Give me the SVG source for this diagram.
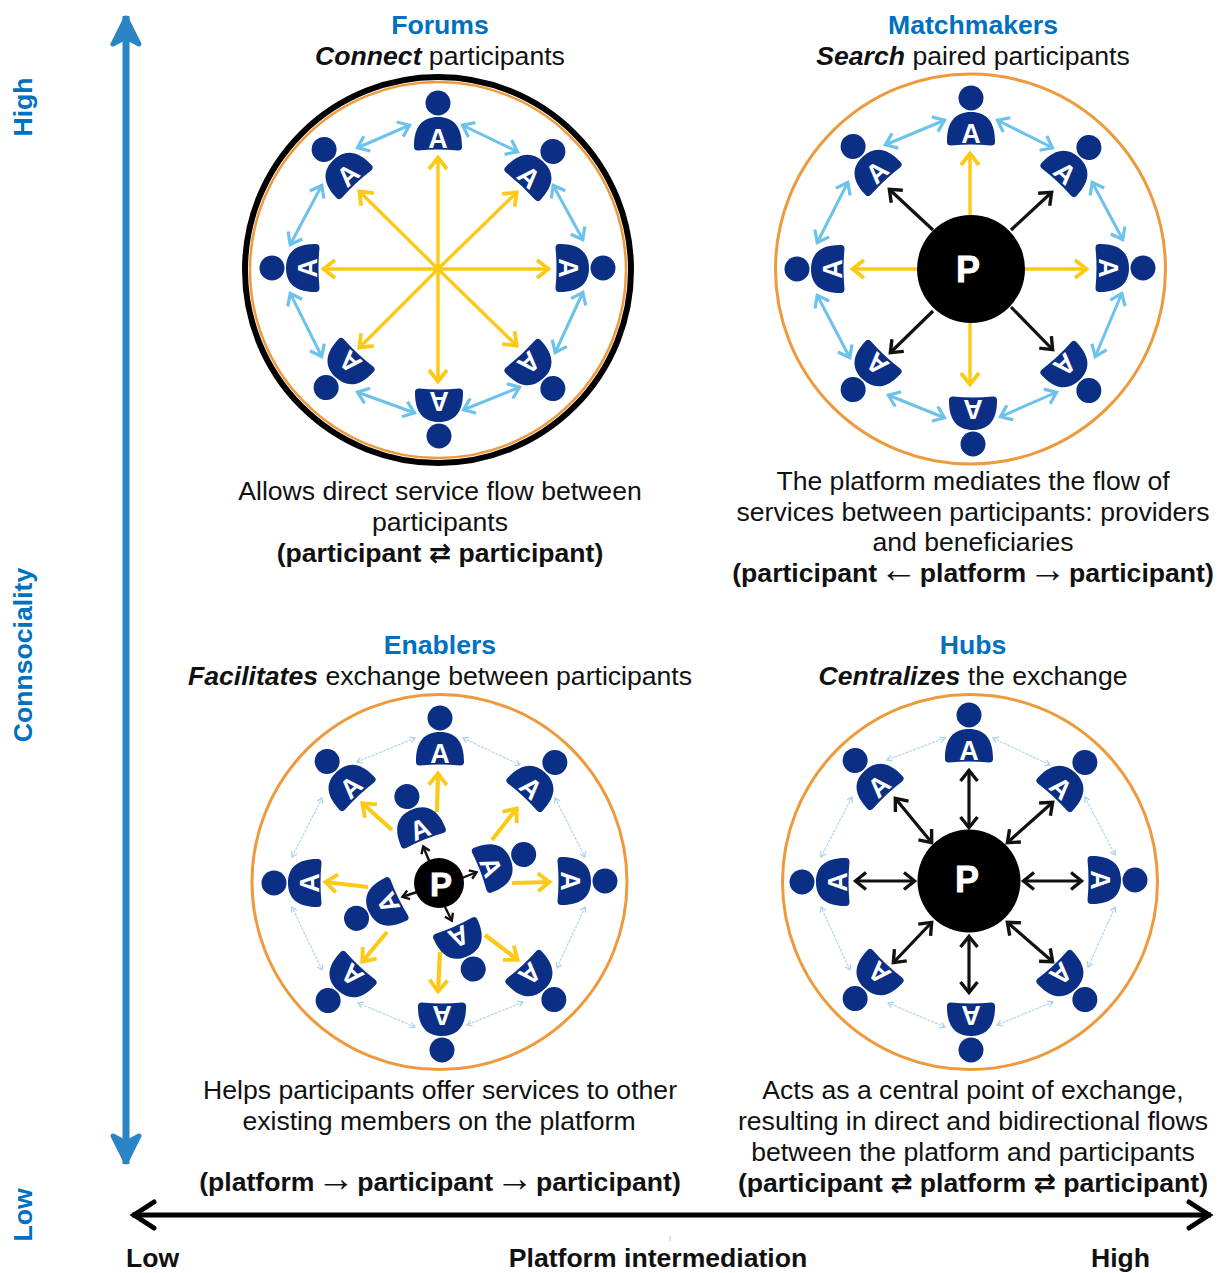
<svg xmlns="http://www.w3.org/2000/svg" width="1220" height="1273" viewBox="0 0 1220 1273">
<style>
text{font-family:"Liberation Sans","DejaVu Sans",sans-serif;font-size:26.6px;fill:#111;text-anchor:middle}
.b{font-weight:700}
.t{font-weight:700;fill:#0070c0}
.i{font-weight:700;font-style:italic}
.s{text-anchor:start}
.ar{font-size:38px;font-weight:400}
.a{font-weight:700;font-size:27px;fill:#fff}
.P{font-weight:700;fill:#fff;stroke:#fff;stroke-width:.8}
.ring{fill:#fff;stroke:#ee9a3c;stroke-width:3}
.hub{fill:#000}
.body{fill:#0b2f85}
line{fill:none}
.y1{stroke:#fcc916;stroke-width:3.4;marker-end:url(#my)}
.y2{stroke:#fcc916;stroke-width:4.2;marker-end:url(#my)}
.l{stroke:#6cc2ea;stroke-width:3;marker-start:url(#ml);marker-end:url(#ml)}
.f{stroke:#b4d6ea;stroke-width:1.2;stroke-dasharray:3 1;marker-start:url(#mf);marker-end:url(#mf)}
.k{stroke:#111;stroke-width:3.2;marker-end:url(#mk)}
.kk{stroke:#111;stroke-width:3.2;marker-start:url(#mk);marker-end:url(#mk)}
.k1{stroke:#111;stroke-width:2.4;marker-end:url(#ms)}
</style>
<defs>
<g id="person"><circle cx="0" cy="-35" r="12.5" class="body"/><path class="body" d="M-20,12.5 Q0,10.5 20,12.5 Q24.5,12.5 24,8 C24,-12 15,-21 0,-21 C-15,-21 -24,-12 -24,8 Q-24.5,12.5 -20,12.5Z"/></g>
<marker id="my" markerUnits="userSpaceOnUse" markerWidth="28" markerHeight="28" refX="17" refY="14" orient="auto-start-reverse"><path d="M5,5 L16.5,14 L5,23" fill="none" stroke="#fcc916" stroke-width="3.8"/></marker>
<marker id="ml" markerUnits="userSpaceOnUse" markerWidth="28" markerHeight="28" refX="17" refY="14" orient="auto-start-reverse"><path d="M6,6 L16.5,14 L6,22" fill="none" stroke="#6cc2ea" stroke-width="3.2"/></marker>
<marker id="mf" markerUnits="userSpaceOnUse" markerWidth="12" markerHeight="12" refX="8" refY="6" orient="auto-start-reverse"><path d="M3,3 L8,6 L3,9" fill="none" stroke="#a9cfe6" stroke-width="1.2"/></marker>
<marker id="mk" markerUnits="userSpaceOnUse" markerWidth="28" markerHeight="28" refX="17" refY="14" orient="auto-start-reverse"><path d="M6,5.5 L16.5,14 L6,22.5" fill="none" stroke="#111" stroke-width="3.4"/></marker>
<marker id="ms" markerUnits="userSpaceOnUse" markerWidth="16" markerHeight="16" refX="10" refY="8" orient="auto-start-reverse"><path d="M3,3.5 L9.5,8 L3,12.5" fill="none" stroke="#111" stroke-width="2.4"/></marker>
<marker id="mb" markerUnits="userSpaceOnUse" markerWidth="44" markerHeight="44" refX="36" refY="22" orient="auto-start-reverse"><path d="M34,22 L8,9 L15,22 L8,35Z" fill="#2a84c6" stroke="#2a84c6" stroke-width="5" stroke-linejoin="round"/></marker>
<marker id="mh" markerUnits="userSpaceOnUse" markerWidth="36" markerHeight="36" refX="28" refY="18" orient="auto-start-reverse"><path d="M6,5 L26,18 L6,31" fill="none" stroke="#000" stroke-width="5" stroke-linecap="round"/></marker>
</defs>

<g id="rings">
<circle cx="438" cy="270" r="193" fill="#fff" stroke="#000" stroke-width="6"/>
<circle cx="438" cy="270" r="188" fill="none" stroke="#ee9a3c" stroke-width="2.5"/>
<circle class="ring" cx="970.5" cy="269" r="195"/>
<circle class="ring" cx="439.5" cy="882" r="187.5"/>
<circle class="ring" cx="970" cy="882" r="187.5"/>
</g>

<g id="connectors">
<line x1="126" y1="16" x2="126" y2="1164" stroke="#2a84c6" stroke-width="7" marker-start="url(#mb)" marker-end="url(#mb)"/>
<line x1="132" y1="1215" x2="1211" y2="1215" stroke="#000" stroke-width="5" marker-start="url(#mh)" marker-end="url(#mh)"/>
<line x1="670" y1="1236" x2="670" y2="1241" stroke="#bbb" stroke-width="1"/>

<line class="y1" x1="438" y1="269" x2="438" y2="157"/><line class="y1" x1="438" y1="269" x2="517" y2="192"/><line class="y1" x1="438" y1="269" x2="549" y2="269"/><line class="y1" x1="438" y1="269" x2="517" y2="346"/><line class="y1" x1="438" y1="269" x2="438" y2="382"/><line class="y1" x1="438" y1="269" x2="359" y2="348"/><line class="y1" x1="438" y1="269" x2="323" y2="269"/><line class="y1" x1="438" y1="269" x2="359" y2="191"/>
<line class="l" x1="357" y1="148" x2="410" y2="125"/><line class="l" x1="462" y1="125" x2="518" y2="152"/><line class="l" x1="553" y1="185" x2="583" y2="240"/><line class="l" x1="583" y1="292" x2="555" y2="353"/><line class="l" x1="520" y1="387" x2="463" y2="410"/><line class="l" x1="415" y1="413" x2="357" y2="392"/><line class="l" x1="322" y1="357" x2="290" y2="293"/><line class="l" x1="290" y1="245" x2="322" y2="185"/>

<line class="y1" x1="970" y1="215" x2="970" y2="153"/><line class="y1" x1="1025" y1="269" x2="1087" y2="269"/><line class="y1" x1="970" y1="323" x2="970" y2="385"/><line class="y1" x1="917" y1="269" x2="852" y2="269"/>
<line class="k" x1="933" y1="230" x2="889" y2="189"/><line class="k" x1="1011" y1="230" x2="1052" y2="192"/><line class="k" x1="1011" y1="307" x2="1053" y2="350"/><line class="k" x1="933" y1="311" x2="890" y2="353"/>
<line class="l" x1="885" y1="145" x2="945" y2="120"/><line class="l" x1="997" y1="120" x2="1053" y2="148"/><line class="l" x1="1092" y1="182" x2="1123" y2="240"/><line class="l" x1="1122" y1="293" x2="1095" y2="357"/><line class="l" x1="1057" y1="392" x2="1000" y2="417"/><line class="l" x1="945" y1="418" x2="888" y2="395"/><line class="l" x1="850" y1="358" x2="817" y2="295"/><line class="l" x1="817" y1="243" x2="848" y2="182"/>

<line class="y2" x1="437" y1="812" x2="438" y2="773"/><line class="y2" x1="392" y1="830" x2="362" y2="803"/><line class="y2" x1="492" y1="840" x2="517" y2="808"/><line class="y2" x1="512" y1="883" x2="550" y2="882"/><line class="y2" x1="485" y1="935" x2="518" y2="960"/><line class="y2" x1="440" y1="952" x2="438" y2="992"/><line class="y2" x1="387" y1="932" x2="362" y2="962"/><line class="y2" x1="368" y1="887" x2="325" y2="882"/>
<line class="k1" x1="430" y1="863" x2="423" y2="846"/><line class="k1" x1="462" y1="878" x2="477" y2="872"/><line class="k1" x1="445" y1="907" x2="452" y2="921"/><line class="k1" x1="417" y1="892" x2="402" y2="897"/>
<line class="f" x1="357" y1="762" x2="415" y2="738"/><line class="f" x1="463" y1="738" x2="520" y2="765"/><line class="f" x1="555" y1="798" x2="585" y2="857"/><line class="f" x1="585" y1="907" x2="557" y2="968"/><line class="f" x1="523" y1="1002" x2="467" y2="1025"/><line class="f" x1="415" y1="1027" x2="358" y2="1003"/><line class="f" x1="322" y1="970" x2="292" y2="907"/><line class="f" x1="292" y1="857" x2="322" y2="798"/>

<line class="kk" x1="969" y1="770" x2="969" y2="828"/><line class="kk" x1="969" y1="936" x2="969" y2="993"/><line class="kk" x1="1023" y1="881" x2="1082" y2="881"/><line class="kk" x1="855" y1="881" x2="915" y2="881"/><line class="kk" x1="1007" y1="843" x2="1053" y2="802"/><line class="kk" x1="1007" y1="922" x2="1053" y2="962"/><line class="kk" x1="932" y1="922" x2="893" y2="963"/><line class="kk" x1="932" y1="843" x2="895" y2="798"/>
<line class="f" x1="887" y1="760" x2="945" y2="738"/><line class="f" x1="993" y1="738" x2="1050" y2="765"/><line class="f" x1="1085" y1="797" x2="1115" y2="855"/><line class="f" x1="1115" y1="907" x2="1088" y2="967"/><line class="f" x1="1053" y1="1002" x2="997" y2="1025"/><line class="f" x1="945" y1="1027" x2="888" y2="1003"/><line class="f" x1="850" y1="970" x2="821" y2="907"/><line class="f" x1="821" y1="857" x2="852" y2="797"/>
</g>

<g id="forums-a1" transform="translate(438,138) rotate(0)"><use href="#person"/><text class="a" y="9.5">A</text></g>
<g id="forums-a2" transform="translate(529,177) rotate(43)"><use href="#person"/><text class="a" y="9.5">A</text></g>
<g id="forums-a3" transform="translate(568,268) rotate(90)"><use href="#person"/><text class="a" y="9.5">A</text></g>
<g id="forums-a4" transform="translate(529,363) rotate(137)"><use href="#person"/><text class="a" y="9.5">A</text></g>
<g id="forums-a5" transform="translate(439,401) rotate(180)"><use href="#person"/><text class="a" y="9.5">A</text></g>
<g id="forums-a6" transform="translate(350,362) rotate(-137)"><use href="#person"/><text class="a" y="9.5">A</text></g>
<g id="forums-a7" transform="translate(307,268) rotate(-90)"><use href="#person"/><text class="a" y="9.5">A</text></g>
<g id="forums-a8" transform="translate(348,175) rotate(-43)"><use href="#person"/><text class="a" y="9.5">A</text></g>

<g id="match-p"><circle class="hub" cx="971" cy="269" r="54"/><text class="P" x="968" y="282" style="font-size:36px">P</text></g>
<g id="match-a1" transform="translate(971,133) rotate(0)"><use href="#person"/><text class="a" y="9.5">A</text></g>
<g id="match-a2" transform="translate(1065,173) rotate(43)"><use href="#person"/><text class="a" y="9.5">A</text></g>
<g id="match-a3" transform="translate(1108,268) rotate(90)"><use href="#person"/><text class="a" y="9.5">A</text></g>
<g id="match-a4" transform="translate(1065,365) rotate(137)"><use href="#person"/><text class="a" y="9.5">A</text></g>
<g id="match-a5" transform="translate(973,409) rotate(180)"><use href="#person"/><text class="a" y="9.5">A</text></g>
<g id="match-a6" transform="translate(877,364) rotate(-137)"><use href="#person"/><text class="a" y="9.5">A</text></g>
<g id="match-a7" transform="translate(832,269) rotate(-90)"><use href="#person"/><text class="a" y="9.5">A</text></g>
<g id="match-a8" transform="translate(877,172) rotate(-43)"><use href="#person"/><text class="a" y="9.5">A</text></g>

<g id="enablers-p"><circle class="hub" cx="439" cy="883" r="25"/><text class="P" x="441" y="896" style="font-size:33px">P</text></g>
<g id="enablers-a1" transform="translate(440,753) rotate(0)"><use href="#person"/><text class="a" y="9.5">A</text></g>
<g id="enablers-a2" transform="translate(531,788) rotate(43)"><use href="#person"/><text class="a" y="9.5">A</text></g>
<g id="enablers-a3" transform="translate(570,881) rotate(90)"><use href="#person"/><text class="a" y="9.5">A</text></g>
<g id="enablers-a4" transform="translate(530,974) rotate(137)"><use href="#person"/><text class="a" y="9.5">A</text></g>
<g id="enablers-a5" transform="translate(442,1015) rotate(180)"><use href="#person"/><text class="a" y="9.5">A</text></g>
<g id="enablers-a6" transform="translate(352,975) rotate(-137)"><use href="#person"/><text class="a" y="9.5">A</text></g>
<g id="enablers-a7" transform="translate(309,883) rotate(-90)"><use href="#person"/><text class="a" y="9.5">A</text></g>
<g id="enablers-a8" transform="translate(351,787) rotate(-43)"><use href="#person"/><text class="a" y="9.5">A</text></g>
<g id="enablers-i1" transform="translate(420,829) rotate(-22)"><use href="#person"/><text class="a" y="9.5">A</text></g>
<g id="enablers-i2" transform="translate(491,867) rotate(69)"><use href="#person"/><text class="a" y="9.5">A</text></g>
<g id="enablers-i3" transform="translate(459,937) rotate(156)"><use href="#person"/><text class="a" y="9.5">A</text></g>
<g id="enablers-i4" transform="translate(388,903) rotate(-116)"><use href="#person"/><text class="a" y="9.5">A</text></g>

<g id="hubs-p"><circle class="hub" cx="969" cy="881" r="51.5"/><text class="P" x="967" y="892" style="font-size:36px">P</text></g>
<g id="hubs-a1" transform="translate(969,750) rotate(0)"><use href="#person"/><text class="a" y="9.5">A</text></g>
<g id="hubs-a2" transform="translate(1061,788) rotate(43)"><use href="#person"/><text class="a" y="9.5">A</text></g>
<g id="hubs-a3" transform="translate(1100,880) rotate(90)"><use href="#person"/><text class="a" y="9.5">A</text></g>
<g id="hubs-a4" transform="translate(1061,974) rotate(137)"><use href="#person"/><text class="a" y="9.5">A</text></g>
<g id="hubs-a5" transform="translate(971,1015) rotate(180)"><use href="#person"/><text class="a" y="9.5">A</text></g>
<g id="hubs-a6" transform="translate(879,973) rotate(-137)"><use href="#person"/><text class="a" y="9.5">A</text></g>
<g id="hubs-a7" transform="translate(837,882) rotate(-90)"><use href="#person"/><text class="a" y="9.5">A</text></g>
<g id="hubs-a8" transform="translate(879,786) rotate(-43)"><use href="#person"/><text class="a" y="9.5">A</text></g>

<g id="labels">
<text class="t" x="440" y="34">Forums</text>
<text x="440" y="65"><tspan class="i">Connect</tspan> participants</text>
<text class="t" x="973" y="34">Matchmakers</text>
<text x="973" y="65"><tspan class="i">Search</tspan> paired participants</text>
<text x="440" y="500">Allows direct service flow between</text>
<text x="440" y="531">participants</text>
<text class="b" x="440" y="562">(participant ⇄ participant)</text>
<text x="973" y="490">The platform mediates the flow of</text>
<text x="973" y="521">services between participants: providers</text>
<text x="973" y="551">and beneficiaries</text>
<text class="b" x="973" y="582">(participant <tspan class="ar" dx="-5">←</tspan><tspan dx="-5"> platform </tspan><tspan class="ar" dx="-5">→</tspan><tspan dx="-5"> participant)</tspan></text>
<text class="t" x="440" y="654">Enablers</text>
<text x="440" y="685"><tspan class="i">Facilitates</tspan> exchange between participants</text>
<text class="t" x="973" y="654">Hubs</text>
<text x="973" y="685"><tspan class="i">Centralizes</tspan> the exchange</text>
<text x="440" y="1099">Helps participants offer services to other</text>
<text x="439" y="1130">existing members on the platform</text>
<text class="b" x="440" y="1191">(platform <tspan class="ar" dx="-5">→</tspan><tspan dx="-5"> participant </tspan><tspan class="ar" dx="-5">→</tspan><tspan dx="-5"> participant)</tspan></text>
<text x="973" y="1099">Acts as a central point of exchange,</text>
<text x="973" y="1130">resulting in direct and bidirectional flows</text>
<text x="973" y="1161">between the platform and participants</text>
<text class="b" x="973" y="1192">(participant ⇄ platform ⇄ participant)</text>
<text class="b s" x="126" y="1267">Low</text>
<text class="b" x="658" y="1267">Platform intermediation</text>
<text class="b s" x="1091" y="1267">High</text>
<text class="t" transform="translate(32,107) rotate(-90)">High</text>
<text class="t" transform="translate(32,655) rotate(-90)">Connsociality</text>
<text class="t" transform="translate(32,1215) rotate(-90)">Low</text>
</g>
</svg>
